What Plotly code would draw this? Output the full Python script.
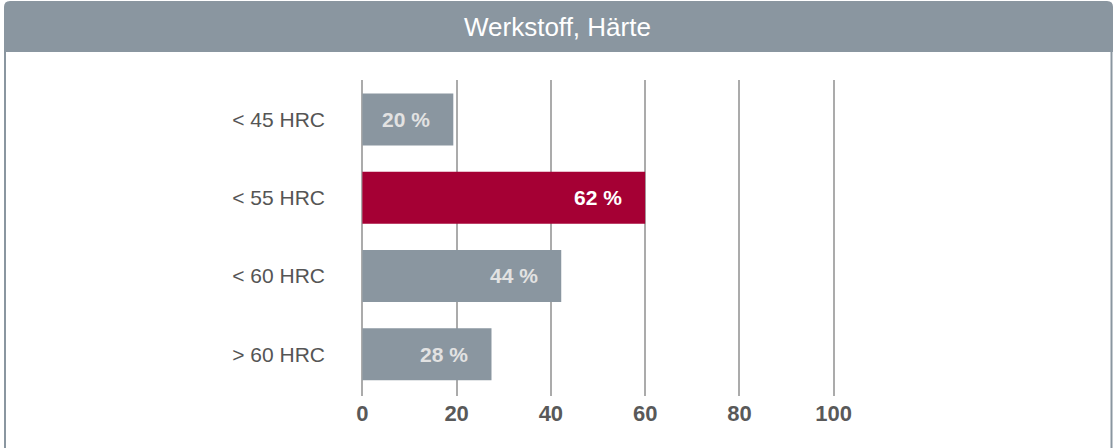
import plotly.graph_objects as go

# ---- data ----
categories = ["< 45 HRC", "< 55 HRC", "< 60 HRC", "> 60 HRC"]
bar_values = [19.3, 60.0, 42.2, 27.4]
bar_labels = ["20 %", "62 %", "44 %", "28 %"]
bar_colors = ["#8a96a0", "#a50034", "#8a96a0", "#8a96a0"]
label_colors = ["#e2e2e2", "#ffffff", "#e2e2e2", "#e2e2e2"]
x_ticks = [0, 20, 40, 60, 80, 100]
title_text = "Werkstoff, Härte"

# ---- layout geometry (pixels) ----
W, H = 1114, 448
L, R, T, B = 360, 836, 80, 396
FONT = "Liberation Sans, Arial, sans-serif"
GRAY = "#8a96a0"


def px(x):
    return (x - L) / (R - L)


def py(y):
    return (B - y) / (B - T)


fig = go.Figure()
fig.add_trace(go.Bar(
    x=bar_values,
    y=categories,
    orientation="h",
    marker=dict(color=bar_colors, line=dict(width=0)),
    hoverinfo="skip",
))

annotations = []
for cat, v, lab, c in zip(categories, bar_values, bar_labels, label_colors):
    annotations.append(dict(
        x=v, y=cat, xref="x", yref="y", text=f"<b>{lab}</b>",
        showarrow=False, xanchor="right", yanchor="middle", xshift=-21,
        font=dict(family=FONT, size=21, color=c),
    ))

annotations.append(dict(
    x=px(557.5), y=py(27), xref="paper", yref="paper", text=title_text,
    showarrow=False, xanchor="center", yanchor="middle",
    font=dict(family=FONT, size=26, color="#ffffff"),
))

# header rounded rectangle
x0, x1, y0, y1, r = 4, 1113, 1, 52, 6
path = (
    f"M {px(x0)},{py(y1)} "
    f"L {px(x0)},{py(y0 + r)} "
    f"Q {px(x0)},{py(y0)} {px(x0 + r)},{py(y0)} "
    f"L {px(x1 - r)},{py(y0)} "
    f"Q {px(x1)},{py(y0)} {px(x1)},{py(y0 + r)} "
    f"L {px(x1)},{py(y1)} Z"
)
shapes = [
    dict(type="path", xref="paper", yref="paper", path=path,
         fillcolor=GRAY, line=dict(width=0), layer="below"),
    dict(type="line", xref="paper", yref="paper",
         x0=px(5), x1=px(5), y0=py(52), y1=py(449),
         line=dict(color=GRAY, width=2)),
    dict(type="line", xref="paper", yref="paper",
         x0=px(1111.5), x1=px(1111.5), y0=py(52), y1=py(449),
         line=dict(color=GRAY, width=2)),
]

fig.update_layout(
    width=W, height=H,
    margin=dict(l=L, r=W - R, t=T, b=H - B, pad=0),
    paper_bgcolor="#ffffff", plot_bgcolor="#ffffff",
    showlegend=False,
    bargap=0.335,
    annotations=annotations,
    shapes=shapes,
    font=dict(family=FONT),
)
fig.update_xaxes(
    range=[-0.5, 100.5],
    tickvals=x_ticks,
    ticktext=[f"<b>{t}</b>" for t in x_ticks],
    tickfont=dict(family=FONT, size=22, color="#595959"),
    showgrid=True, gridcolor="#ababab", gridwidth=2,
    zeroline=False, showline=False, ticks="",
    ticklabelstandoff=2,
)
fig.update_yaxes(
    categoryorder="array", categoryarray=categories,
    range=[3.535, -0.505],
    tickfont=dict(family=FONT, size=21, color="#555555"),
    showgrid=False, zeroline=False, showline=False, ticks="",
    ticklabelstandoff=34,
)

fig.write_html(
    "out.html",
    config={"displayModeBar": False},
    post_script="document.body.style.margin='0';document.body.style.overflow='hidden';",
)
